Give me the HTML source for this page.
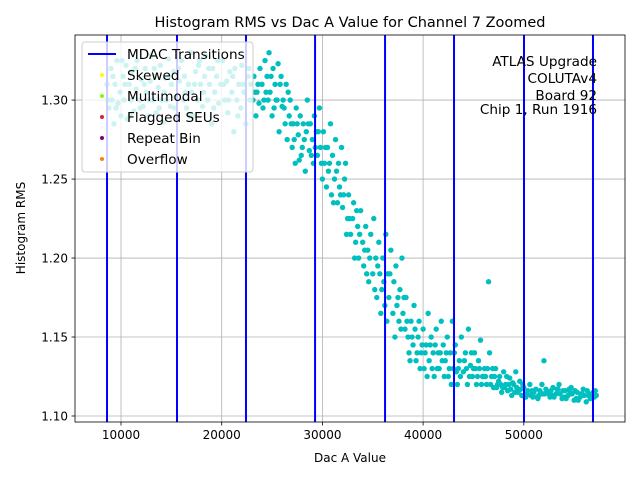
<!DOCTYPE html>
<html><head><meta charset="utf-8"><style>
body{margin:0;background:#fff;font-family:"Liberation Sans","DejaVu Sans",sans-serif;}
svg text{font-family:"DejaVu Sans","Liberation Sans",sans-serif;}
</style></head><body>
<svg id="c" width="640" height="480" xmlns="http://www.w3.org/2000/svg">
<rect width="640" height="480" fill="#fff"/>
<text x="350" y="27" text-anchor="middle" font-size="14.5">Histogram RMS vs Dac A Value for Channel 7 Zoomed</text>
<g id="grid"></g><g id="pts"></g><g id="vlines"></g><g id="axes"></g>
<text x="350" y="462" text-anchor="middle" font-size="12">Dac A Value</text>
<text x="25" y="228" text-anchor="middle" font-size="12" transform="rotate(-90 25 228)">Histogram RMS</text>
<g font-size="13.6" text-anchor="end">
<text x="597" y="66">ATLAS Upgrade</text><text x="597" y="83">COLUTAv4</text><text x="597" y="100">Board 92</text><text x="597" y="114">Chip 1, Run 1916</text></g>
<g>
<rect x="82" y="42" width="171" height="130" rx="3" fill="rgba(255,255,255,0.8)" stroke="#ccc"/>
<line x1="88" y1="54" x2="116" y2="54" stroke="#0000ff" stroke-width="2"/>
<text x="127" y="59" font-size="13.6">MDAC Transitions</text>
<circle cx="102" cy="75" r="2" fill="#ffff00"/><text x="127" y="80" font-size="13.6">Skewed</text>
<circle cx="102" cy="96" r="2" fill="#7fff00"/><text x="127" y="101" font-size="13.6">Multimodal</text>
<circle cx="102" cy="117" r="2" fill="#d62728"/><text x="127" y="122" font-size="13.6">Flagged SEUs</text>
<circle cx="102" cy="138" r="2" fill="#800080"/><text x="127" y="143" font-size="13.6">Repeat Bin</text>
<circle cx="102" cy="159" r="2" fill="#ff7f0e"/><text x="127" y="164" font-size="13.6">Overflow</text>
</g>
</svg>
<script>
const xTicks=[10000,20000,30000,40000,50000];
const yTicks=[1.10,1.15,1.20,1.25,1.30];
const mdacTransitions=[8610,15560,22410,29270,36220,43070,50020,56870];
const dacA_k=[8.6,8.8,9.0,9.1,9.3,9.4,9.6,9.7,9.9,10.0,10.2,10.3,10.5,10.6,10.8,11.0,11.1,11.3,11.5,11.6,11.8,12.0,
12.2,12.4,12.5,12.7,12.9,13.0,13.2,13.4,13.5,13.7,13.9,14.0,14.2,14.4,14.5,14.7,14.9,15.0,15.2,15.4,15.6,15.8,
16.0,16.2,16.3,16.5,16.7,16.9,17.0,17.2,17.4,17.6,17.7,17.9,18.1,18.3,18.4,18.6,18.8,19.0,19.1,19.3,19.5,19.7,19.9,
20.1,20.3,20.5,20.6,20.8,21.0,21.2,21.3,21.5,21.7,21.9,22.0,22.2,22.4,22.6,22.8,22.9,
23.1,23.2,23.4,23.5,23.7,23.8,24.0,24.1,24.3,24.4,24.6,24.7,24.9,25.0,25.1,25.3,25.4,25.6,25.7,25.8,26.0,
26.1,26.3,26.4,26.5,26.7,26.8,27.0,27.1,27.3,27.4,27.6,27.7,27.8,28.0,28.1,28.3,28.4,28.5,28.7,28.8,29.0,29.1,29.2,29.4,29.5,29.7,29.8,30.0,
30.1,30.2,30.4,30.5,30.6,30.8,30.9,31.0,31.2,31.3,31.5,31.6,31.7,31.9,32.0,32.2,32.3,32.5,
32.6,32.8,33.0,33.1,33.3,33.5,33.6,33.8,34.0,34.1,34.3,34.5,34.6,34.8,35.0,35.1,35.3,35.4,
35.6,35.7,35.9,36.0,36.2,36.3,36.5,36.6,36.8,37.0,37.1,37.3,37.4,37.6,37.7,37.9,38.0,
38.2,38.3,38.5,38.6,38.8,39.0,39.1,39.3,39.5,39.6,39.8,40.0,40.1,40.3,40.5,40.6,40.8,41.0,41.1,41.3,41.5,41.6,41.8,42.0,
42.2,42.4,42.5,42.7,42.9,43.0,43.2,43.4,43.6,43.8,44.0,44.2,44.4,44.5,44.7,44.9,45.1,45.3,45.5,45.7,45.9,46.1,46.3,46.5,46.6,46.8,47.0,
47.2,47.4,47.6,47.8,48.0,48.2,48.4,48.6,48.8,49.0,49.2,49.4,49.6,49.8,
50.0,50.3,50.6,50.9,51.2,51.5,51.8,52.0,52.3,52.6,52.9,53.2,53.5,53.8,54.1,54.4,54.7,55.0,55.3,55.6,55.9,56.2,56.5,56.8,57.1,
50.2,50.8,51.4,52.1,52.8,53.4,54.0,54.6,55.2,55.8,56.4,57.0,48.1,48.9,49.5,46.0,45.0,44.1,43.3];
const rms=[1.31,1.295,1.32,1.30,1.285,1.31,1.325,1.298,1.305,1.29,1.315,1.30,1.322,1.288,1.31,1.30,1.318,1.293,1.307,1.325,1.30,1.313,
1.296,1.32,1.305,1.29,1.312,1.328,1.30,1.315,1.292,1.308,1.322,1.30,1.286,1.314,1.30,1.326,1.296,1.31,1.318,1.302,1.29,1.312,
1.325,1.30,1.315,1.295,1.31,1.33,1.305,1.29,1.318,1.30,1.322,1.31,1.296,1.315,1.328,1.30,1.31,1.285,1.32,1.305,1.315,1.298,1.31,
1.325,1.30,1.312,1.292,1.318,1.305,1.28,1.32,1.30,1.31,1.295,1.322,1.305,1.285,1.315,1.30,1.31,
1.30,1.315,1.29,1.305,1.298,1.32,1.31,1.295,1.325,1.305,1.30,1.33,1.315,1.29,1.32,1.31,1.30,1.323,1.28,1.31,1.296,
1.30,1.285,1.31,1.275,1.29,1.30,1.27,1.285,1.26,1.295,1.278,1.262,1.29,1.27,1.285,1.255,1.28,1.30,1.268,1.285,1.275,1.26,1.29,1.28,1.265,1.295,1.27,1.25,
1.28,1.26,1.245,1.27,1.255,1.285,1.24,1.265,1.25,1.275,1.235,1.26,1.245,1.27,1.232,1.25,1.26,1.225,
1.24,1.215,1.225,1.235,1.21,1.22,1.20,1.23,1.21,1.195,1.22,1.205,1.185,1.215,1.19,1.225,1.20,1.175,
1.21,1.19,1.18,1.20,1.17,1.215,1.19,1.175,1.205,1.165,1.185,1.195,1.17,1.16,1.18,1.20,1.165,
1.155,1.175,1.15,1.14,1.16,1.145,1.17,1.135,1.15,1.16,1.14,1.155,1.13,1.145,1.165,1.135,1.15,1.14,1.125,1.155,1.14,1.13,1.16,1.145,
1.135,1.15,1.125,1.14,1.16,1.13,1.145,1.12,1.135,1.15,1.128,1.14,1.12,1.155,1.132,1.125,1.14,1.12,1.135,1.148,1.125,1.13,1.12,1.185,1.14,1.125,1.118,
1.13,1.12,1.125,1.115,1.128,1.12,1.116,1.124,1.113,1.12,1.128,1.115,1.122,1.113,
1.118,1.114,1.12,1.112,1.117,1.113,1.12,1.135,1.115,1.112,1.118,1.114,1.12,1.111,1.116,1.113,1.118,1.11,1.115,1.112,1.117,1.109,1.114,1.112,1.116,
1.112,1.116,1.111,1.114,1.113,1.117,1.112,1.115,1.111,1.114,1.113,1.112,1.118,1.121,1.116,1.125,1.13,1.135,1.128];
const dacA_k_extra=[8.7,9.2,9.5,10.1,10.4,10.9,11.4,11.9,12.3,12.8,13.3,13.8,14.3,14.8,15.3,15.7,16.4,16.8,17.3,17.8,18.2,18.7,19.2,19.6,20.2,20.7,21.1,21.6,22.1,22.7,
23.3,23.6,24.2,24.5,24.8,25.2,25.5,25.9,26.2,26.6,26.9,27.2,27.5,27.9,28.2,28.6,28.9,29.3,29.6,29.9,30.3,30.7,31.1,31.4,31.8,32.1,32.4,32.7,33.2,33.4,33.7,34.2,34.4,34.7,35.2,35.5,35.8,36.1,36.4,36.7,37.2,37.5,37.8,38.1,38.4,38.7,38.9,39.2,39.4,39.7,39.9,40.2,40.4,40.7,40.9,41.2,41.4,41.7,41.9,42.1,42.3,42.6,42.8,43.1,43.5,43.7,44.3,44.6,44.8,45.2,45.4,45.6,45.8,46.2,46.4,46.7,46.9,47.1,47.3,47.5,47.7,47.9,48.3,48.5,48.7,49.1,49.3,49.7,49.9,
50.1,50.4,50.7,51.0,51.3,51.6,51.9,52.2,52.5,52.7,53.0,53.3,53.6,53.9,54.2,54.5,54.8,55.1,55.4,55.7,56.0,56.3,56.6,56.9,57.2];
const rms_extra=[1.30,1.315,1.295,1.325,1.31,1.29,1.32,1.295,1.31,1.30,1.32,1.295,1.305,1.315,1.295,1.32,1.305,1.29,1.31,1.325,1.305,1.32,1.295,1.325,1.31,1.30,1.315,1.29,1.31,1.32,
1.305,1.31,1.30,1.315,1.305,1.295,1.30,1.315,1.295,1.305,1.285,1.275,1.285,1.265,1.275,1.285,1.265,1.27,1.28,1.26,1.27,1.26,1.235,1.255,1.24,1.24,1.215,1.225,1.20,1.23,1.215,1.205,1.19,1.20,1.18,1.195,1.165,1.185,1.16,1.19,1.15,1.175,1.155,1.175,1.16,1.135,1.15,1.155,1.14,1.13,1.145,1.14,1.125,1.145,1.13,1.145,1.13,1.14,1.135,1.125,1.14,1.13,1.12,1.14,1.13,1.125,1.13,1.125,1.14,1.13,1.125,1.13,1.12,1.125,1.13,1.12,1.13,1.125,1.118,1.122,1.12,1.118,1.125,1.12,1.117,1.115,1.118,1.117,1.12,
1.112,1.116,1.113,1.115,1.112,1.116,1.114,1.117,1.114,1.116,1.112,1.117,1.114,1.116,1.111,1.117,1.114,1.116,1.11,1.114,1.113,1.116,1.111,1.115,1.113];
const X0=75,X1=625,Y0=35,Y1=422;
const xMin=5430,xMax=60050,yMin=1.0962,yMax=1.3412;
const xs=v=>X0+(v-xMin)/(xMax-xMin)*(X1-X0);
const ys=v=>Y1-(v-yMin)/(yMax-yMin)*(Y1-Y0);
const NS='http://www.w3.org/2000/svg';
function mk(t,a,p){const e=document.createElementNS(NS,t);for(const k in a)e.setAttribute(k,a[k]);p.appendChild(e);return e;}
const grid=document.getElementById('grid'),axes=document.getElementById('axes'),pts=document.getElementById('pts'),vl=document.getElementById('vlines');
xTicks.forEach(v=>{const x=xs(v);
const g=mk('line',{x1:x,x2:x,y1:Y0,y2:Y1,stroke:'#b0b0b0','stroke-width':0.8},grid);


mk('line',{x1:x,x2:x,y1:Y1,y2:Y1+3.5,stroke:'#000','stroke-width':0.8},axes);
const t=mk('text',{x:x,y:Y1+17,'text-anchor':'middle','font-size':12},axes);t.textContent=v;

});
yTicks.forEach(v=>{const y=ys(v);
const g=mk('line',{x1:X0,x2:X1,y1:y,y2:y,stroke:'#b0b0b0','stroke-width':0.8},grid);


mk('line',{x1:X0-3.5,x2:X0,y1:y,y2:y,stroke:'#000','stroke-width':0.8},axes);
const t=mk('text',{x:X0-7,y:y+4.5,'text-anchor':'end','font-size':12},axes);t.textContent=v.toFixed(2);

});
function plot(xa,ya){xa.forEach((v,i)=>{const c=mk('circle',{cx:xs(v*1000),cy:ys(ya[i]),r:2.7,fill:'#00bfbf'},pts);

});}
plot(dacA_k,rms);
plot(dacA_k_extra,rms_extra);
mdacTransitions.forEach(v=>{const l=mk('line',{x1:xs(v),x2:xs(v),y1:Y0,y2:Y1,stroke:'#0000ff','stroke-width':2},vl);

});
const f=mk('rect',{x:X0,y:Y0,width:X1-X0,height:Y1-Y0,fill:'none',stroke:'#000','stroke-width':0.8},axes);


</script>
</body></html>
